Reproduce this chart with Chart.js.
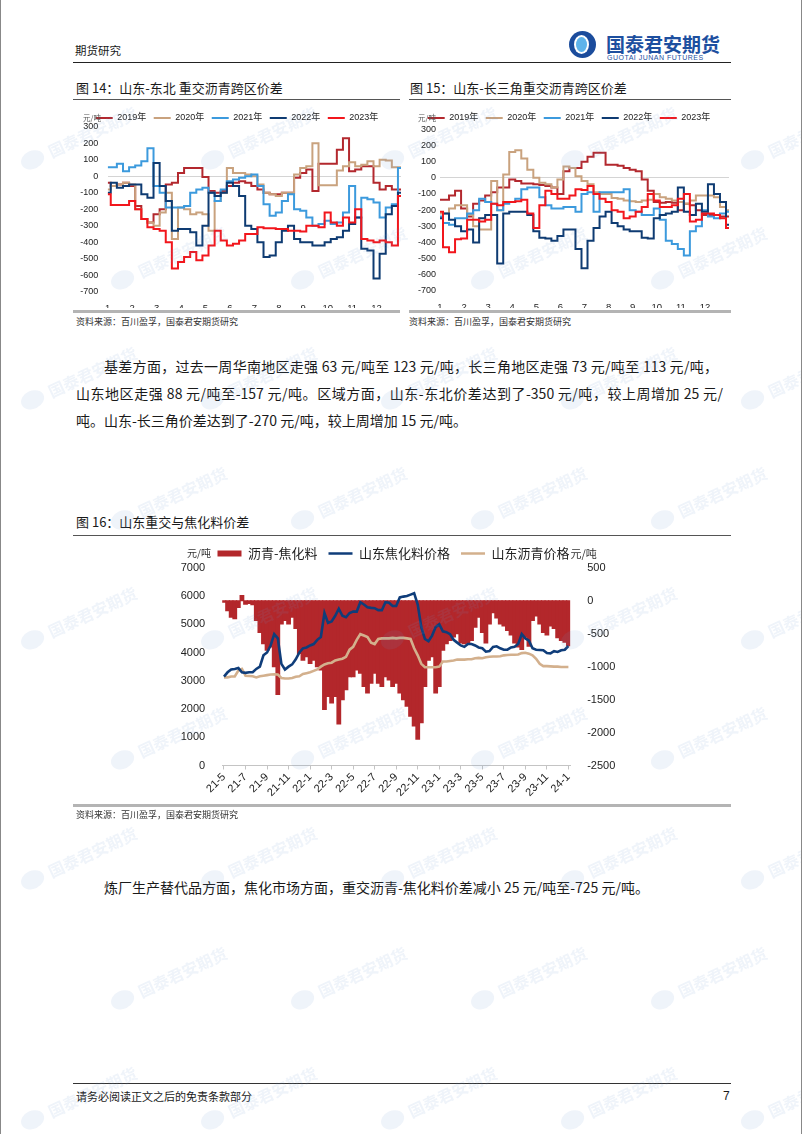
<!DOCTYPE html>
<html>
<head>
<meta charset="utf-8">
<script src="https://cdn.jsdelivr.net/npm/chart.js@4/dist/chart.umd.min.js"></script>
<style>
  body { margin: 0; background: #fff; }
  #page { position: relative; width: 800px; height: 1134px; overflow: hidden; background: #fff;
          border-left: 1px solid #888; border-right: 1px solid #888;
          font-family: "Noto Sans CJK SC", sans-serif; color: #1a1a1a; }
  .abs { position: absolute; white-space: nowrap; }
  .rule { position: absolute; height: 0; }
  .title { font-size: 13px; line-height: 16px; }
  .src { font-size: 9px; line-height: 12px; color: #333; }
  .para { font-size: 14px; line-height: 20px; text-align: justify; text-align-last: justify; }
  .box { position: absolute; }
  #wm { position: absolute; left: 0; top: 0; width: 800px; height: 1134px; pointer-events: none; opacity: 0.11; }
  .wm { position: absolute; transform: rotate(-25deg); transform-origin: left center; white-space: nowrap; color: #6f97cf; }
  .wm i { display: inline-block; width: 24px; height: 18px; border-radius: 50%; background: #6f97cf; vertical-align: middle; margin-right: 6px; }
  .wm b { font-size: 16px; font-weight: bold; vertical-align: middle; }
</style>
</head>
<body>
<div id="page">
  <!-- header -->
  <div class="abs" style="left:74px;top:42px;font-size:11.5px;line-height:16px;">期货研究</div>
  <div class="abs" style="left:568px;top:31px;width:27px;height:27px;border-radius:50%;background:#1b4c9c;"></div>
  <div class="abs" style="left:573px;top:35px;width:15px;height:19px;border-radius:50%;background:#fff;"></div>
  <div class="abs" style="left:575px;top:37px;width:11px;height:15px;border-radius:50%;background:#5eb3ea;"></div>
  <div class="abs" style="left:605px;top:33px;font-size:19px;line-height:22px;font-weight:bold;color:#1d4f9f;">国泰君安期货</div>
  <div class="abs" style="left:606px;top:54px;font-family:'Liberation Sans',sans-serif;font-size:7px;line-height:8px;color:#1d4f9f;letter-spacing:0.5px;">GUOTAI JUNAN FUTURES</div>
  <div class="rule" style="left:72px;top:62px;width:658px;border-top:1.5px solid #222;"></div>

  <!-- figure 14 / 15 -->
  <div class="abs title" style="left:75px;top:80px;">图 14：山东-东北 重交沥青跨区价差</div>
  <div class="abs title" style="left:409px;top:80px;">图 15：山东-长三角重交沥青跨区价差</div>
  <div class="rule" style="left:72px;top:99px;width:327px;border-top:1px solid #555;"></div>
  <div class="rule" style="left:408px;top:99px;width:322px;border-top:1px solid #555;"></div>

  <div class="box" style="left:72px;top:106px;width:330px;height:202px;"><canvas id="neChart"></canvas></div>
  <div class="box" style="left:408px;top:106px;width:326px;height:202px;"><canvas id="yrdChart"></canvas></div>

  <div class="rule" style="left:72px;top:310px;width:327px;border-top:3px solid #b4b4b4;"></div>
  <div class="rule" style="left:408px;top:310px;width:322px;border-top:3px solid #b4b4b4;"></div>
  <div class="abs src" style="left:75px;top:316px;">资料来源：百川盈孚，国泰君安期货研究</div>
  <div class="abs src" style="left:408px;top:316px;">资料来源：百川盈孚，国泰君安期货研究</div>

  <!-- paragraph 1 -->
  <div class="abs para" style="left:103px;top:356px;width:614px;">基差方面，过去一周华南地区走强 63 元/吨至 123 元/吨，长三角地区走强 73 元/吨至 113 元/吨，</div>
  <div class="abs para" style="left:75px;top:383px;width:647px;">山东地区走强 88 元/吨至-157 元/吨。区域方面，山东-东北价差达到了-350 元/吨，较上周增加 25 元/</div>
  <div class="abs" style="left:75px;top:410px;font-size:14px;line-height:20px;">吨。山东-长三角价差达到了-270 元/吨，较上周增加 15 元/吨。</div>

  <!-- figure 16 -->
  <div class="abs title" style="left:75px;top:514px;">图 16：山东重交与焦化料价差</div>
  <div class="rule" style="left:72px;top:535px;width:658px;border-top:1px solid #555;"></div>
  <div class="box" style="left:170px;top:535.5px;width:445px;height:269.5px;"><canvas id="diffChart"></canvas></div>
  <div class="rule" style="left:72px;top:804px;width:658px;border-top:3px solid #b4b4b4;"></div>
  <div class="abs src" style="left:75px;top:809px;">资料来源：百川盈孚，国泰君安期货研究</div>

  <!-- paragraph 2 -->
  <div class="abs" style="left:103px;top:877px;font-size:14px;line-height:20px;">炼厂生产替代品方面，焦化市场方面，重交沥青-焦化料价差减小 25 元/吨至-725 元/吨。</div>

  <!-- footer -->
  <div class="rule" style="left:72px;top:1083px;width:658px;border-top:1px solid #333;"></div>
  <div class="abs" style="left:75px;top:1088px;font-size:11px;line-height:16px;">请务必阅读正文之后的免责条款部分</div>
  <div class="abs" style="left:722px;top:1088px;font-family:'Liberation Sans',sans-serif;font-size:12px;line-height:16px;">7</div>

  <div id="wm"></div>
</div>

<script>
// month positions on the year axis (4 readings per month, Jan 1 .. year end)
const monthPos = Array.from({ length: 49 }, (_, i) => 1 + i / 4);
const yearLabels = ['2019年', '2020年', '2021年', '2022年', '2023年'];
const yearColors = ['#B3282E', '#C9A27E', '#3C9ADD', '#0E3B72', '#F2161C'];

// 图14 山东-东北 (元/吨)
const ne2019 = [-40,-60,-50,-40, -60,-180,-260,-280, -230,-200,-50,-40, 20,50,50,50, -5,-90,-100,-90, -60,-40,-30,-40,
  -60,-80,-100,-110, -110,-100,-100,-10, 20,40,-90,75, 75,75,160,230, 30,40,60,60, -40,-80,-60,-80, -80];
const ne2020 = [-80,-60,-50,-40, -50,-200,-260,-280, -300,-220,-100,-380, -190,-200,-230,-220, -230,-330,-150,-100, 50,20,20,10,
  0,-50,-100,-110, -120,-100,-100,10, 50,60,200,-55, -55,-55,35,60, 85,60,70,90, 60,100,95,55, 55];
const ne2021 = [55,55,75,30, 55,65,90,170, -60,-100,-190,-190, -190,-180,-100,-80, -70,-100,-150,-80, -30,-20,-10,0,
  10,-60,-170,-240, -220,-150,-110,-200, -210,-250,-300,-290, -270,-290,-280,-220, -60,-250,-130,-140, -160,-250,-190,-170, 50];
const ne2022 = [-100,-40,-70,-60, -50,-50,-110,-130, 80,-60,-150,-330, -320,-320,-340,-420, -300,-100,-120,-100, -40,-60,-120,-300,
  -320,-400,-490,-480, -400,-330,-300,-380, -400,-400,-420,-420, -400,-380,-370,-330, -290,-250,-440,-450, -620,-470,-230,-180, -100];
const ne2023 = [-110,-175,-175,-175, -150,-200,-260,-310, -320,-330,-400,-560, -520,-490,-460,-510, -480,-420,-330,-390, -420,-410,-390,-350,
  -350,-310,-315,-315, -320,-320,-330,-330, -335,-300,-300,-310, -220,-280,-300,-250, -280,-200,-380,-390, -400,-390,-400,-420, -120];

// 图15 山东-长三角 (元/吨)
const yrd2019 = [-135,-135,-110,-80, -190,-240,-160,-140, -110,-90,-60,-60, -10,-20,-35,-35, -40,-45,-50,-60, -100,40,60,60,
  100,130,155,155, 80,80,75,60, 50,40,-10,-80, -150,-155,-150,-155, -200,-160,-170,-200, -230,-230,-230,-240, -240];
const yrd2020 = [-220,-220,-190,-170, -170,-230,-300,-320, -320,-20,-200,20, 160,170,120,50, 0,-30,-40,-60, -10,70,60,10,
  -20,-40,-90,-100, -100,-125,-130,-140, -145,-150,-140,-135, -100,-120,-130,-140, -150,-160,-140,-110, -110,-110,-120,-180, -200];
const yrd2021 = [-240,-280,-290,-250, -250,-220,-200,-130, -150,-160,-200,-160, -150,-130,-70,-60, -60,-120,-170,-190, -190,-180,-180,-210,
  -100,-90,-210,-90, -90,-90,-90,-70, -200,-210,-230,-230, -190,-260,-390,-410, -440,-480,-330,-300, -200,-240,-250,-220, -210];
const yrd2022 = [-250,-220,-260,-300, -330,-320,-400,-250, -230,-230,-530,-220, -210,-210,-210,-230, -330,-370,-375,-390, -360,-320,-320,-440,
  -560,-390,-310,-240, -210,-280,-300,-320, -330,-330,-370,-375, -250,-230,-220,-210, -60,-210,-230,-160, -210,-40,-100,-150, -290];
const yrd2023 = [-210,-430,-460,-380, -375,-260,-260,-270, -260,-160,-170,-150, -150,-145,-135,-220, -310,-170,-80,-100, -130,-130,-110,-70,
  -75,-50,-100,-130, -150,-200,-210,-250, -240,-210,-180,-100, -140,-180,-180,-170, -130,-100,-270,-260, -220,-220,-230,-250, -310];

// 图16: three readings per month from 21-5 to 24-1
const diffMonths = ['21-5','21-6','21-7','21-8','21-9','21-10','21-11','21-12',
  '22-1','22-2','22-3','22-4','22-5','22-6','22-7','22-8','22-9','22-10','22-11','22-12',
  '23-1','23-2','23-3','23-4','23-5','23-6','23-7','23-8','23-9','23-10','23-11','23-12','24-1'];
const diffLabels = [];
diffMonths.forEach((m, i) => {
  const n = i === diffMonths.length - 1 ? 1 : 3;
  for (let k = 0; k < n; k++) diffLabels.push(m);
});

const asphaltCokerDiff = [
  -20,-150,-250, -270,-100,80, -50,-40,-60, -300,-480,-650, -750,-700,-1000, -1420,-350,-300, -350,-250,-420, -800,-900,-850,
  -950,-900,-1000, -1050,-1650,-1450, -1550,-1450,-1870, -1500,-1350,-1150, -1150,-1050,-1100, -1300,-1400,-1250,
  -1100,-1250,-1300, -1150,-1200,-1300, -1250,-1400,-1500, -1600,-1750,-1900, -2100,-1850,-1300, -900,-850,-1400,
  -1300,-750,-650, -600,-550,-500, -640,-650,-640, -600,-400,-250, -480,-640,-350, -180,-260,-350, -380,-450,-520,
  -640,-700,-740, -550,-690,-300, -230,-350,-480, -520,-380,-420, -560,-600,-630, -680];
const cokerPrice = [
  3150,3300,3400, 3420,3450,3300, 3280,3300,3300, 3420,3500,3900, 4000,4250,4650, 4500,3600,3400, 3500,3580,3760, 4000,4150,4180,
  4250,4300,4450, 4550,5400,5050, 5100,5300,5550, 5300,5250,5400, 5450,5450,5780, 5700,5600,5580, 5570,5500,5500,
  5780,5760,5650, 5650,5950,5980, 6000,6050,6100, 5700,4900,4480, 4400,4600,4900, 5000,4750,4720, 4650,4450,4350,
  4250,4200,4300, 4300,4250,4180, 4150,4030,4050, 4200,4220,4150, 4100,4100,4180, 4200,4300,4650, 4500,4420,4150,
  4100,4090,4080, 3980,3970,4050, 4020,4080,4100, 4230];
const asphaltPrice = [
  3120,3120,3150, 3150,3360,3420, 3180,3170,3160, 3120,3160,3180, 3200,3220,3230, 3220,3100,3080, 3080,3100,3140, 3160,3240,3270,
  3300,3350,3400, 3500,3580,3620, 3640,3720,3750, 3780,3850,4100, 4200,4450,4650, 4600,4550,4350, 4300,4480,4500,
  4500,4500,4520, 4500,4520,4520, 4500,4480,4150, 3900,3600,3480, 3480,3480,3480, 3500,3680,3680, 3700,3720,3750,
  3750,3750,3760, 3760,3800,3810, 3800,3830,3850, 3860,3860,3870, 3900,3910,3920, 3920,3930,3980, 3990,3960,3900,
  3780,3600,3520, 3520,3510,3500, 3500,3490,3490, 3490];

// faint page watermark (staggered tiles)
(function () {
  const wm = document.getElementById('wm');
  for (let r = 0; r < 9; r++) {
    for (let c = 0; c < 5; c++) {
      const d = document.createElement('div');
      d.className = 'wm';
      d.style.left = (20 + c * 180 + (r % 2) * 90) + 'px';
      d.style.top = (150 + r * 120) + 'px';
      d.innerHTML = '<i></i><b>国泰君安期货</b>';
      wm.appendChild(d);
    }
  }
})();

Chart.defaults.font.family = "'Liberation Sans', 'Noto Sans CJK SC', sans-serif";
Chart.defaults.color = '#222';

// keep the legend block at a fixed height so the plot sits where the original does
function legendHeight(h) {
  return {
    id: 'legendHeight',
    beforeInit(chart) {
      const fit = chart.legend.fit;
      chart.legend.fit = function () { fit.call(this); this.height = h; };
    }
  };
}

// axis unit captions (元/吨); "afterLegend" puts it right after the last legend entry
function unitText(items) {
  return {
    id: 'unitText',
    afterDraw(chart) {
      const c = chart.ctx;
      c.save();
      c.textBaseline = 'middle';
      items.forEach(it => {
        let x = it.x;
        if (it.afterLegend && chart.legend.legendHitBoxes.length) {
          const last = chart.legend.legendHitBoxes[chart.legend.legendHitBoxes.length - 1];
          x = last.left + last.width + 1;
        }
        c.font = it.font;
        c.fillStyle = it.color;
        c.fillText(it.text, x, it.y);
      });
      c.restore();
    }
  };
}

function yearChart(id, series, o) {
  new Chart(document.getElementById(id), {
    type: 'line',
    data: {
      datasets: series.map((s, k) => ({
        label: yearLabels[k],
        data: s.map((v, i) => ({ x: monthPos[i], y: v })),
        borderColor: yearColors[k],
        backgroundColor: yearColors[k],
        borderWidth: 2,
        pointRadius: 0,
        pointStyle: 'line',
        stepped: 'middle',
        order: series.length - k
      }))
    },
    options: {
      responsive: true,
      maintainAspectRatio: false,
      animation: false,
      layout: { padding: { left: 0, right: o.padRight, top: 0, bottom: 0 } },
      plugins: {
        legend: {
          labels: {
            usePointStyle: true, pointStyleWidth: 17, padding: 7.5,
            font: { size: 9 }, color: '#222',
            sort: (a, b) => a.datasetIndex - b.datasetIndex
          }
        },
        tooltip: { enabled: false }
      },
      scales: {
        x: {
          type: 'linear', min: 1, max: 13,
          grid: { display: false }, border: { display: false },
          ticks: { stepSize: 1, padding: 3, maxRotation: 0, font: { size: 9.5 }, color: '#222' },
          afterBuildTicks: ax => { ax.ticks = ax.ticks.filter(t => t.value <= 12); },
          afterFit: ax => { ax.height = o.xHeight; }
        },
        y: {
          min: -700, max: 300,
          ticks: { stepSize: 100, padding: o.yPad, font: { size: 9 }, color: '#222', callback: v => String(v) },
          grid: { drawTicks: false, color: c => (c.tick && c.tick.value === 0 ? '#d4d4d4' : 'rgba(0,0,0,0)') },
          border: { display: false },
          afterFit: ax => { ax.width = o.yWidth; }
        }
      }
    },
    plugins: [legendHeight(o.legendH),
      unitText([{ text: '元/吨', x: o.unitX, y: 12, font: "7.5px 'Noto Sans CJK SC'", color: '#555' }])]
  });
}

yearChart('neChart', [ne2019, ne2020, ne2021, ne2022, ne2023],
  { padRight: 2, xHeight: 16.3, yWidth: 34.7, yPad: 9.5, legendH: 20.7, unitX: 10 });
yearChart('yrdChart', [yrd2019, yrd2020, yrd2021, yrd2022, yrd2023],
  { padRight: 6, xHeight: 17, yWidth: 31, yPad: 4, legendH: 23.3, unitX: 9 });

new Chart(document.getElementById('diffChart'), {
  type: 'bar',
  data: {
    labels: diffLabels,
    datasets: [
      {
        type: 'bar', label: '沥青-焦化料', data: asphaltCokerDiff, yAxisID: 'y1',
        backgroundColor: '#B3272B', borderWidth: 0, barPercentage: 1, categoryPercentage: 1,
        inflateAmount: 0.6, pointStyle: 'rect', order: 3
      },
      {
        type: 'line', label: '山东焦化料价格', data: cokerPrice, yAxisID: 'y',
        borderColor: '#0F3D7A', backgroundColor: '#0F3D7A', borderWidth: 2.6,
        pointRadius: 0, pointStyle: 'line', tension: 0, order: 1
      },
      {
        type: 'line', label: '山东沥青价格', data: asphaltPrice, yAxisID: 'y',
        borderColor: '#D3B08D', backgroundColor: '#D3B08D', borderWidth: 2.6,
        pointRadius: 0, pointStyle: 'line', tension: 0, order: 2
      }
    ]
  },
  options: {
    responsive: true,
    maintainAspectRatio: false,
    animation: false,
    layout: { padding: 0 },
    plugins: {
      legend: {
        labels: {
          usePointStyle: true, pointStyleWidth: 24, boxHeight: 6, padding: 11,
          font: { size: 13, family: "'Noto Sans CJK SC', sans-serif" }, color: '#222',
          sort: (a, b) => a.datasetIndex - b.datasetIndex
        }
      },
      tooltip: { enabled: false }
    },
    scales: {
      x: {
        offset: true,
        grid: { display: true, drawOnChartArea: false, offset: false, tickLength: 4, color: '#c4c4c4' },
        border: { display: true, color: '#c4c4c4' },
        ticks: { autoSkip: false, minRotation: 45, maxRotation: 45, padding: 1, font: { size: 11 }, color: '#222' },
        afterBuildTicks: ax => { ax.ticks = ax.ticks.filter((t, i) => i % 6 === 0); },
        afterFit: ax => { ax.height = 40; }
      },
      y: {
        position: 'left', min: 0, max: 7000,
        ticks: { stepSize: 1000, padding: 9, font: { size: 11 }, color: '#222', callback: v => String(v) },
        grid: { display: false }, border: { display: false },
        afterFit: ax => { ax.width = 51.2; }
      },
      y1: {
        position: 'right', min: -2500, max: 500,
        ticks: { stepSize: 500, padding: 9, font: { size: 11 }, color: '#222', callback: v => String(v) },
        grid: { display: false }, border: { display: false },
        afterFit: ax => { ax.width = 45.8; }
      }
    }
  },
  plugins: [legendHeight(31.8),
    unitText([
      { text: '元/吨', x: 16, y: 17.5, font: "10px 'Noto Sans CJK SC'", color: '#333' },
      { text: '元/吨', x: 398, y: 17.5, font: "11px 'Noto Sans CJK SC'", color: '#333', afterLegend: true }
    ])]
});
</script>
</body>
</html>
